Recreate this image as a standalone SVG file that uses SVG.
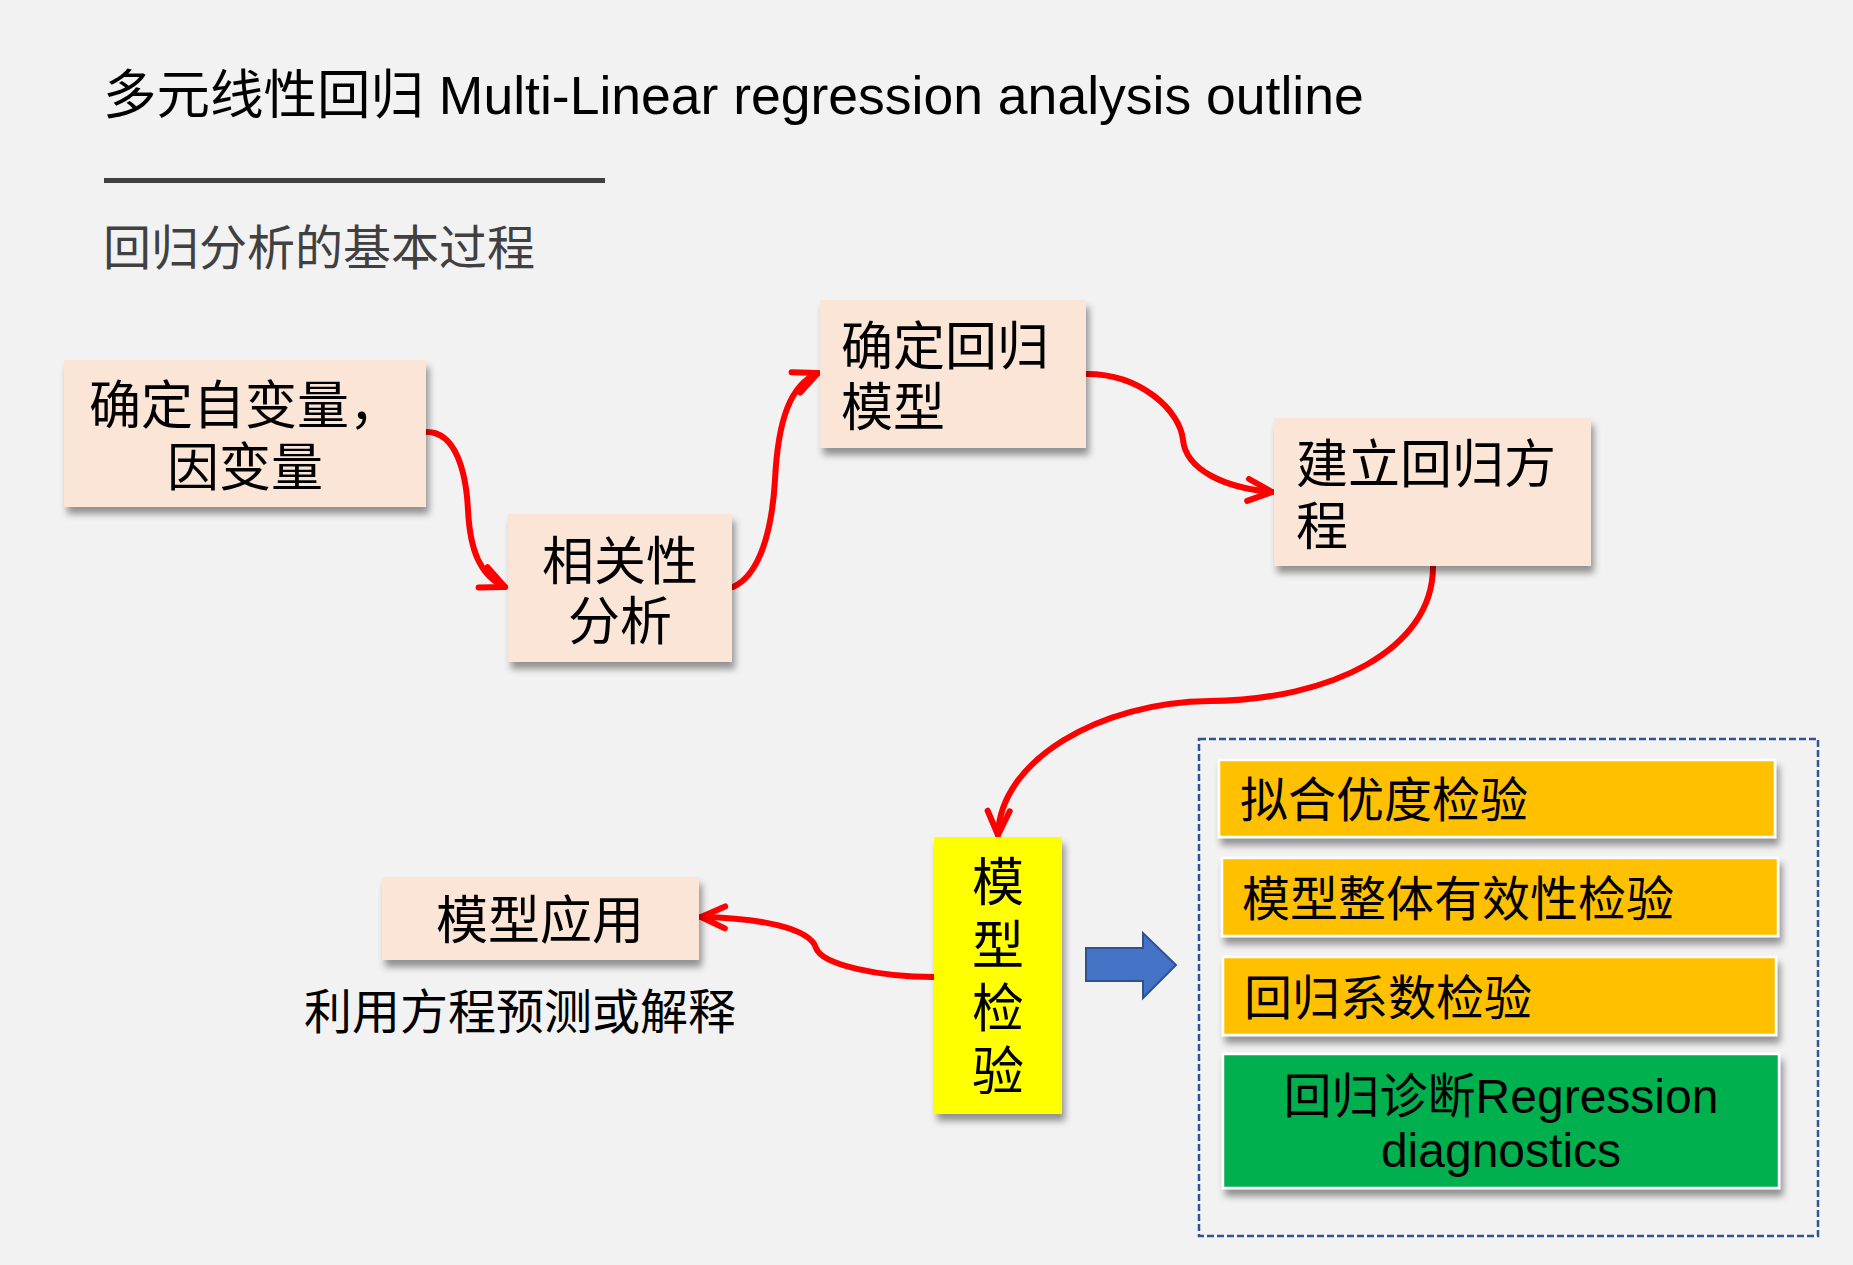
<svg xmlns="http://www.w3.org/2000/svg" width="1853" height="1265" viewBox="0 0 1853 1265">
<style>
  text { font-family: "Liberation Sans", "Noto Sans CJK SC", sans-serif; fill: #000; }
  .n { font-size: 52px; }
  .s { font-size: 48px; }
  .peach { fill: #FBE5D6; }
  .gold { fill: #FFC000; stroke: #FFFFFF; stroke-width: 2.5; }
  .green { fill: #00B050; stroke: #FFFFFF; stroke-width: 2.5; }
  .conn { fill: none; stroke: #FF0000; stroke-width: 6; stroke-linecap: round; marker-end: url(#ah); }
</style>
<defs>
  <filter id="sh" x="-10%" y="-10%" width="125%" height="135%">
    <feDropShadow dx="3" dy="7" stdDeviation="3.5" flood-color="#000" flood-opacity="0.4"/>
  </filter>
  <marker id="ah" markerUnits="userSpaceOnUse" viewBox="-30 -16 34 32" refX="0" refY="0" markerWidth="34" markerHeight="32" orient="auto">
    <path d="M -24 -11 L 0 0 L -24 11" fill="none" stroke="#FF0000" stroke-width="6" stroke-linecap="round" stroke-linejoin="round"/>
  </marker>
</defs>
<rect width="1853" height="1265" fill="#F2F2F2"/>

<g id="title">
  <text x="103" y="114" style="font-size:53.5px" fill="#0D0D0D">多元线性回归 Multi-Linear regression analysis outline</text>
  <rect x="104" y="178" width="501" height="5" fill="#404040"/>
  <text x="103" y="265" class="s" style="fill:#404040">回归分析的基本过程</text>
</g>

<g id="connectors">
  <path class="conn" d="M 427 432 C 455 432, 466 470, 468 510 C 470 550, 480 576, 505 587"/>
  <path class="conn" d="M 733 587 C 760 575, 772 530, 775 480 C 778 420, 790 385, 818 373"/>
  <path class="conn" d="M 1087 374 C 1140 374, 1180 410, 1183 440 C 1186 470, 1225 488, 1272 492"/>
  <path class="conn" d="M 1433 567 C 1433 650, 1330 700, 1210 701 C 1100 702, 1000 760, 998 835"/>
  <path class="conn" d="M 934 977 C 880 977, 822 965, 816 948 C 810 928, 760 918, 701 917"/>
  <path d="M 1086 948 L 1143 948 L 1143 933 L 1176 965 L 1143 998 L 1143 981 L 1086 981 Z" fill="#4472C4" stroke="#2F528F" stroke-width="2"/>
</g>

<g id="n1">
  <rect class="peach" x="64" y="360" width="362" height="147" filter="url(#sh)"/>
  <text class="n" x="245" y="424" text-anchor="middle">确定自变量，</text>
  <text class="n" x="245" y="486" text-anchor="middle">因变量</text>
</g>
<g id="n2">
  <rect class="peach" x="508" y="514" width="224" height="148" filter="url(#sh)"/>
  <text class="n" x="620" y="580" text-anchor="middle">相关性</text>
  <text class="n" x="620" y="640" text-anchor="middle">分析</text>
</g>
<g id="n3">
  <rect class="peach" x="820" y="300" width="266" height="148" filter="url(#sh)"/>
  <text class="n" x="841" y="365">确定回归</text>
  <text class="n" x="841" y="426">模型</text>
</g>
<g id="n4">
  <rect class="peach" x="1274" y="418" width="317" height="148" filter="url(#sh)"/>
  <text class="n" x="1296" y="483">建立回归方</text>
  <text class="n" x="1296" y="545">程</text>
</g>
<g id="n5">
  <rect x="934" y="837" width="128" height="277" fill="#FFFF00" filter="url(#sh)"/>
  <text class="n" x="998" y="901" text-anchor="middle">模</text>
  <text class="n" x="998" y="964" text-anchor="middle">型</text>
  <text class="n" x="998" y="1027" text-anchor="middle">检</text>
  <text class="n" x="998" y="1090" text-anchor="middle">验</text>
</g>
<g id="n6">
  <rect class="peach" x="382" y="877" width="317" height="83" filter="url(#sh)"/>
  <text class="n" x="540" y="939" text-anchor="middle">模型应用</text>
  <text x="304" y="1029" style="font-size:48px">利用方程预测或解释</text>
</g>

<g id="checks">
  <rect x="1199" y="739" width="619" height="497" fill="none" stroke="#2F5597" stroke-width="2.5" stroke-dasharray="7 3"/>
  <g id="c1">
    <rect class="gold" x="1219" y="760" width="556" height="77" filter="url(#sh)"/>
    <text class="s" x="1240" y="817">拟合优度检验</text>
  </g>
  <g id="c2">
    <rect class="gold" x="1222" y="858" width="556" height="78" filter="url(#sh)"/>
    <text class="s" x="1242" y="916">模型整体有效性检验</text>
  </g>
  <g id="c3">
    <rect class="gold" x="1223" y="957" width="553" height="78" filter="url(#sh)"/>
    <text class="s" x="1244" y="1015">回归系数检验</text>
  </g>
  <g id="c4">
    <rect class="green" x="1223" y="1054" width="556" height="134" filter="url(#sh)"/>
    <text class="s" x="1501" y="1113" text-anchor="middle">回归诊断Regression</text>
    <text class="s" x="1501" y="1167" text-anchor="middle">diagnostics</text>
  </g>
</g>
</svg>
